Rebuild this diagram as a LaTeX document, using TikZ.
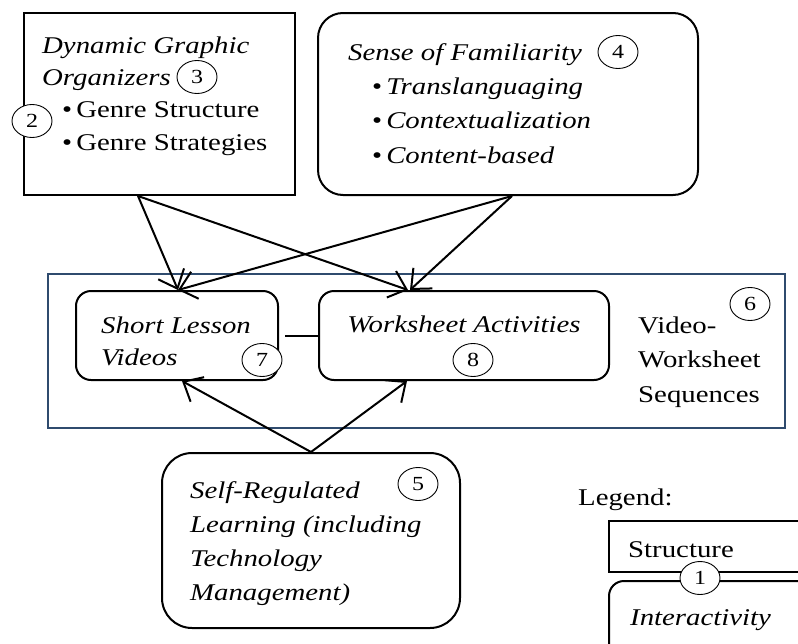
\documentclass[tikz,border=0pt]{standalone}
\usepackage{fontspec}
\setmainfont[FakeStretch=1.2]{Liberation Serif}
\usepackage{xcolor}
\usepackage{tikz}
\usetikzlibrary{
	positioning,
	arrows.meta,
	shapes.geometric
}
\definecolor{frameblue}{HTML}{2F4B6E}

\begin{document}
\begin{tikzpicture}[x=1pt,y=-1pt,
		box/.style={draw,line width=2pt,inner sep=0pt},
		rbox/.style={box,rounded corners=#1},
		num/.style={draw,ellipse,line width=0.9pt,fill=white,inner sep=0pt,
			minimum width=40pt,minimum height=33pt,font=\fontsize{20}{20}\selectfont},
		txt/.style={anchor=base west,inner sep=0pt,align=left,font=\fontsize{24}{#1}\selectfont},
		txt/.default=32,
		flow/.style={-{Straight Barb[length=16pt,width=28pt]},line width=2pt}
	]
	\useasboundingbox (0,0) rectangle (798,643);
	\clip (0,0) rectangle (798,643);

	\node[draw=frameblue,line width=1.8pt,inner sep=0pt,minimum width=737pt,minimum height=154pt] (vws) at (416.5,351) {};
	\node[box,minimum width=271pt,minimum height=182pt] (dgo) at (159.5,104) {};
	\node[rbox=25pt,minimum width=380pt,minimum height=182pt] (sof) at (508,104) {};
	\node[rbox=15pt,minimum width=202pt,minimum height=89pt] (slv) at (177,335.5) {};
	\node[rbox=15pt,minimum width=290pt,minimum height=89pt] (wsa) at (464,335.5) {};
	\node[rbox=30pt,minimum width=298pt,minimum height=175pt] (srl) at (311,540.5) {};
	\node[box,minimum width=221pt,minimum height=51pt] (lstr) at (719.5,546.5) {};
	\node[rbox=15pt,minimum width=221pt,minimum height=100pt] (lint) at (719.5,631) {};

	\draw[flow] ([xshift=-21.5pt]dgo.south) -- ([xshift=1pt]slv.north);
	\draw[flow] ([xshift=-21.5pt]dgo.south) -- ([xshift=-56pt]wsa.north);
	\draw[flow] ([xshift=4pt]sof.south) -- ([xshift=1pt]slv.north);
	\draw[flow] ([xshift=4pt]sof.south) -- ([xshift=-54pt]wsa.north);
	\draw[flow] (srl.north) -- ([xshift=5pt]slv.south);
	\draw[flow] (srl.north) -- ([xshift=-57pt]wsa.south);
	\draw[line width=2pt,shorten <=6pt] (slv) -- (wsa);

	% multi-line texts are placed by the baseline of their last line
	\node[txt=32.3] (dgot) at (42,150) {\textit{Dynamic Graphic}\\\textit{Organizers}\\
		\hspace*{20pt}\textbullet\,Genre Structure\\\hspace*{20pt}\textbullet\,Genre Strategies};
	\node[txt=34.3] (soft) at (348,163) {\textit{Sense of Familiarity}\\
		\hspace*{24pt}\textbullet\,\textit{Translanguaging}\\
		\hspace*{24pt}\textbullet\,\textit{Contextualization}\\
		\hspace*{24pt}\textbullet\,\textit{Content-based}};
	\node[txt] (slvt) at (101,365) {\textit{Short Lesson}\\\textit{Videos}};
	\node[txt,anchor=base] (wsat) at (464,332) {\textit{Worksheet Activities}};
	\node[txt=34.5] (vwst) at (638,402) {Video-\\Worksheet\\Sequences};
	\node[txt=33.7] (srlt) at (190,600) {\textit{Self-Regulated}\\\textit{Learning (including}\\
		\textit{Technology}\\\textit{Management)}};
	\node[txt] (legt) at (578,505) {Legend:};
	\node[txt] (lstrt) at (628,557) {Structure};
	\node[txt] (lintt) at (630,625) {\textit{Interactivity}};

	\node[num] (n1) at (700,578) {1};
	\node[num] (n2) at (32,121) {2};
	\node[num] (n3) at (197,77) {3};
	\node[num] (n4) at (618,52) {4};
	\node[num] (n5) at (418,484) {5};
	\node[num] (n6) at (750,304) {6};
	\node[num] (n7) at (262,360) {7};
	\node[num] (n8) at (473,360) {8};
\end{tikzpicture}
\end{document}
